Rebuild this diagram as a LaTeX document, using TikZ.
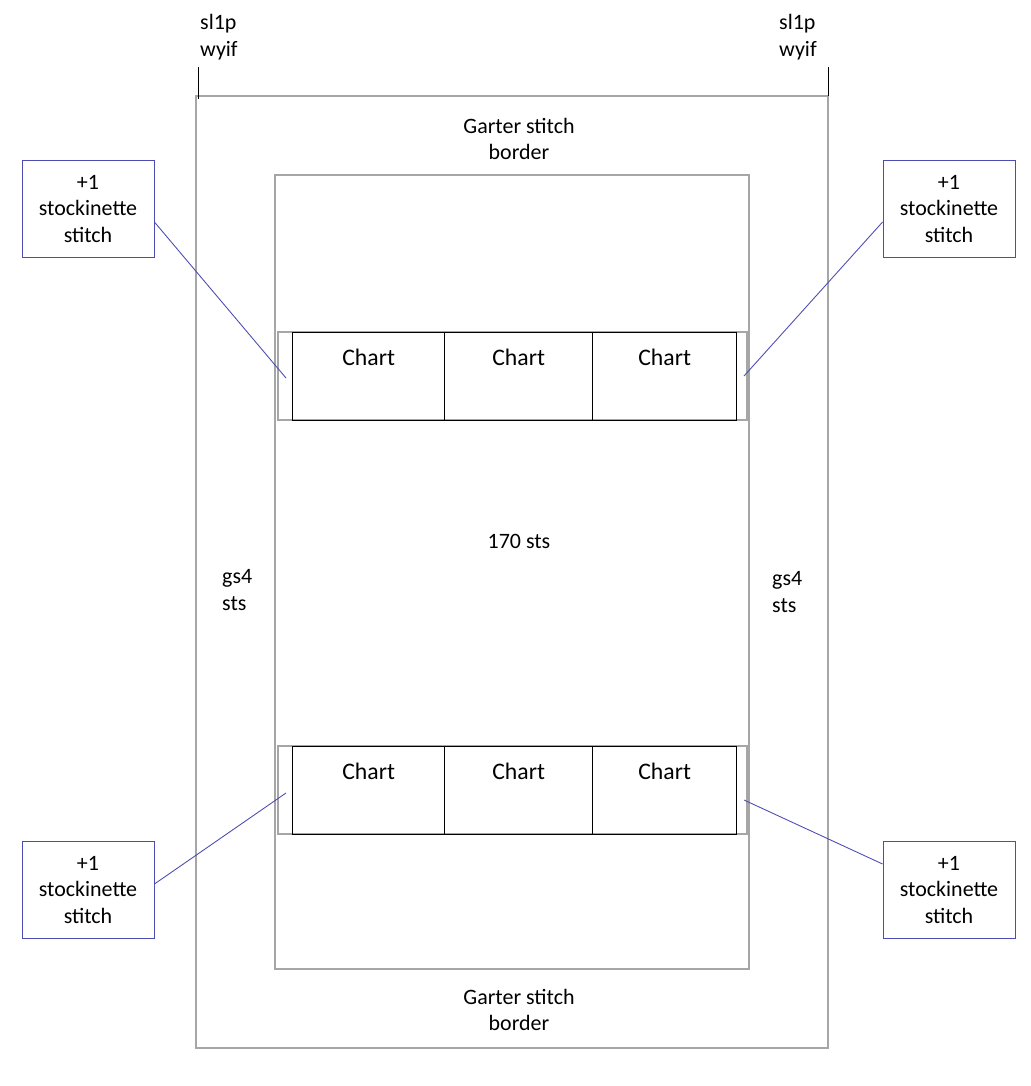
\documentclass[tikz,border=0pt]{standalone}
\usepackage{fontspec}
\setmainfont{Carlito}
\usepackage{tikz}

\begin{document}
\begin{tikzpicture}[x=0.02cm, y=-0.02cm,
        frame/.style={draw=gray!70, line width=1.2pt},
        chart/.style={draw, line width=0.8pt, minimum width=3.04cm, minimum height=1.76cm, inner sep=0pt, anchor=north west},
        callout/.style={draw=blue!40!gray, line width=0.5pt, minimum width=2.64cm, minimum height=1.94cm, align=center, font=\fontsize{12.5}{15}\selectfont},
        lbl/.style={align=center, font=\fontsize{12.5}{15}\selectfont},
        lead/.style={blue!40!gray, line width=0.5pt}]
        \useasboundingbox (0,0) rectangle (1031,1086);

        \draw[frame] (196,96) rectangle (828,1048);
        \draw[frame] (275,175) rectangle (749,969);
        \draw[frame, line width=0.8pt] (278,332) rectangle (747,420);
        \draw[frame, line width=0.8pt] (278,746) rectangle (747,834);

        \node[chart] (c1) at (292,332) {};
        \node[chart, minimum width=2.96cm] (c2) at (444,332) {};
        \node[chart, minimum width=2.88cm] (c3) at (592,332) {};
        \node[chart] (c4) at (292,746) {};
        \node[chart, minimum width=2.96cm] (c5) at (444,746) {};
        \node[chart, minimum width=2.88cm] (c6) at (592,746) {};
        \foreach \n in {1,...,6}
            \node[font=\fontsize{13.5}{15}\selectfont, below=0.22cm] at (c\n.north) {Chart};

        \coordinate (tl) at (198,67);
        \coordinate (tr) at (828,67);
        \draw (tl) -- (198,99);
        \draw (tr) -- (828,96);

        \node[lbl, align=left, anchor=west] (sl) at (194,37) {sl1p\\wyif};
        \node[lbl, align=left, anchor=west] (sr) at (773,37) {sl1p\\wyif};
        \node[lbl] (gtop) at (519,139) {Garter stitch\\border};
        \node[lbl] (gbot) at (519,1010) {Garter stitch\\border};
        \node[lbl] (mid) at (519,541) {170 sts};
        \node[lbl, align=left, anchor=west] (gl) at (216,590) {gs4\\sts};
        \node[lbl, align=left, anchor=west] (gr) at (766,592) {gs4\\sts};

        \node[callout] (b1) at (88,209) {+1\\stockinette\\stitch};
        \node[callout] (b2) at (949,209) {+1\\stockinette\\stitch};
        \node[callout] (b3) at (88,890) {+1\\stockinette\\stitch};
        \node[callout] (b4) at (949,890) {+1\\stockinette\\stitch};

        \coordinate (p1) at (286,378);
        \coordinate (p2) at (744,376);
        \coordinate (p3) at (286,793);
        \coordinate (p4) at (744,800);
        \draw[lead] (b1.east |- 0,222) -- (p1);
        \draw[lead] (b2.west |- 0,222) -- (p2);
        \draw[lead] (b3.east |- 0,884) -- (p3);
        \draw[lead] (b4.west |- 0,864) -- (p4);
    \end{tikzpicture}
\end{document}
